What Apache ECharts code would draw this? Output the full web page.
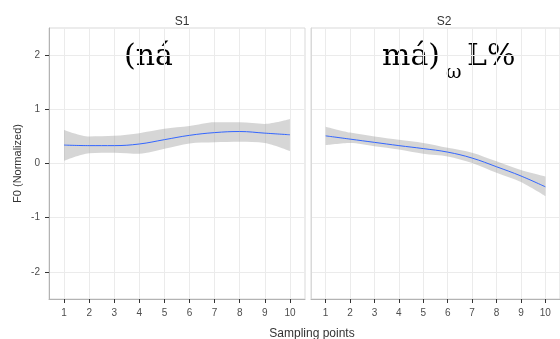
<!DOCTYPE html>
<html>
<head>
<meta charset="utf-8">
<script src="https://cdn.jsdelivr.net/npm/echarts@6/dist/echarts.min.js"></script>
<style>
  html, body { margin: 0; padding: 0; background: #fff; }
  #main { width: 560px; height: 339px; }
</style>
</head>
<body>
<div id="main"></div>
<script>
// sampling points and y ticks
var xs = [1, 2, 3, 4, 5, 6, 7, 8, 9, 10];
var yTicks = [-2, -1, 0, 1, 2];

// S1 : loess fit + confidence band
var s1Fit = [0.34, 0.33, 0.33, 0.36, 0.44, 0.52, 0.57, 0.59, 0.56, 0.53];
var s1Lo  = [0.05, 0.19, 0.20, 0.18, 0.27, 0.37, 0.39, 0.40, 0.38, 0.23];
var s1Hi  = [0.62, 0.50, 0.51, 0.56, 0.64, 0.69, 0.76, 0.76, 0.73, 0.82];

// S2
var s2Fit = [0.51, 0.45, 0.39, 0.33, 0.275, 0.21, 0.10, -0.06, -0.23, -0.43];
var s2Lo  = [0.34, 0.38, 0.32, 0.26, 0.18, 0.13, 0.01, -0.17, -0.34, -0.60];
var s2Hi  = [0.68, 0.57, 0.50, 0.44, 0.38, 0.29, 0.20, 0.04, -0.12, -0.24];

var chart = echarts.init(document.getElementById('main'));

function pairs(v) {
    return xs.map(function (x, i) { return [x, v[i]]; });
}
// y first so the stack goes on the y value (encode maps it back)
function yFirst(v) {
    return xs.map(function (x, i) { return [v[i], x]; });
}
function width(hi, lo) {
    return xs.map(function (x, i) { return +(hi[i] - lo[i]).toFixed(3); });
}

var labFont = 'Liberation Sans';

function xAxisOf(idx) {
    return {
        type: 'value', gridIndex: idx, min: 0.4, max: 10.6,
        axisLine: { show: true, onZero: false, lineStyle: { color: '#b3b3b3' } },
        axisTick: { show: true, customValues: xs, length: 4, lineStyle: { color: '#333' } },
        axisLabel: { customValues: xs, color: '#4d4d4d', fontSize: 10, margin: 9, fontFamily: labFont },
        splitLine: { show: true, lineStyle: { color: '#ebebeb' } }
    };
}
function yAxisOf(idx) {
    var first = idx === 0;
    return {
        type: 'value', gridIndex: idx, min: -2.5, max: 2.5,
        name: first ? 'F0 (Normalized)' : '',
        nameLocation: 'middle', nameGap: 26,
        nameTextStyle: { color: '#333', fontSize: 11, fontFamily: labFont },
        axisLine: { show: true, lineStyle: { color: first ? '#b3b3b3' : '#d9d9d9' } },
        axisTick: { show: first, customValues: yTicks, length: 4, lineStyle: { color: '#333' } },
        axisLabel: { show: first, customValues: yTicks, color: '#4d4d4d', fontSize: 10, margin: 9, fontFamily: labFont },
        splitLine: { show: true, lineStyle: { color: '#ebebeb' } }
    };
}

function panelSeries(idx, fit, lo, hi) {
    var st = 'band' + idx;
    return [
        {
            type: 'line', xAxisIndex: idx, yAxisIndex: idx, stack: st, stackStrategy: 'all',
            data: yFirst(lo), encode: { x: 1, y: 0 }, smooth: 0.3, symbol: 'none', silent: true,
            lineStyle: { opacity: 0 }
        },
        {
            type: 'line', xAxisIndex: idx, yAxisIndex: idx, stack: st, stackStrategy: 'all',
            data: yFirst(width(hi, lo)), encode: { x: 1, y: 0 }, smooth: 0.3, symbol: 'none', silent: true,
            lineStyle: { opacity: 0 },
            areaStyle: { color: 'rgba(153,153,153,0.4)', opacity: 1 }
        },
        {
            type: 'line', xAxisIndex: idx, yAxisIndex: idx,
            data: pairs(fit), smooth: 0.4, symbol: 'none',
            lineStyle: { color: '#3366ff', width: 1 }
        }
    ];
}

var titleStyle = { fontSize: 12, fontWeight: 'normal', color: '#333', fontFamily: labFont };

var option = {
    animation: false,
    backgroundColor: '#fff',
    grid: [
        { left: 49, top: 28, width: 256, bottom: 40, show: true, borderColor: '#d9d9d9', borderWidth: 1 },
        { left: 311, top: 28, width: 256, bottom: 40, show: true, borderColor: '#d9d9d9', borderWidth: 1 }
    ],
    title: [
        { text: 'S1', left: 177, top: 11, textAlign: 'center', textStyle: titleStyle },
        { text: 'S2', left: 439, top: 11, textAlign: 'center', textStyle: titleStyle },
        { text: 'Sampling points', left: 307, top: 323, textAlign: 'center', textStyle: titleStyle }
    ],
    xAxis: [xAxisOf(0), xAxisOf(1)],
    yAxis: [yAxisOf(0), yAxisOf(1)],
    series: panelSeries(0, s1Fit, s1Lo, s1Hi).concat(panelSeries(1, s2Fit, s2Lo, s2Hi)),
    graphic: [
        { type: 'text', left: 124, top: 42, style: { text: '(ná', font: '30px "DejaVu Serif"', fill: '#000' } },
        { type: 'text', left: 382, top: 42, style: { text: 'má)', font: '30px "DejaVu Serif"', fill: '#000' } },
        { type: 'text', left: 446, top: 64, style: { text: 'ω', font: '19px "DejaVu Serif"', fill: '#000' } },
        { type: 'text', left: 467, top: 42, style: { text: 'L%', font: '30px "DejaVu Serif"', fill: '#000' } }
    ]
};
chart.setOption(option);
</script>
</body>
</html>
